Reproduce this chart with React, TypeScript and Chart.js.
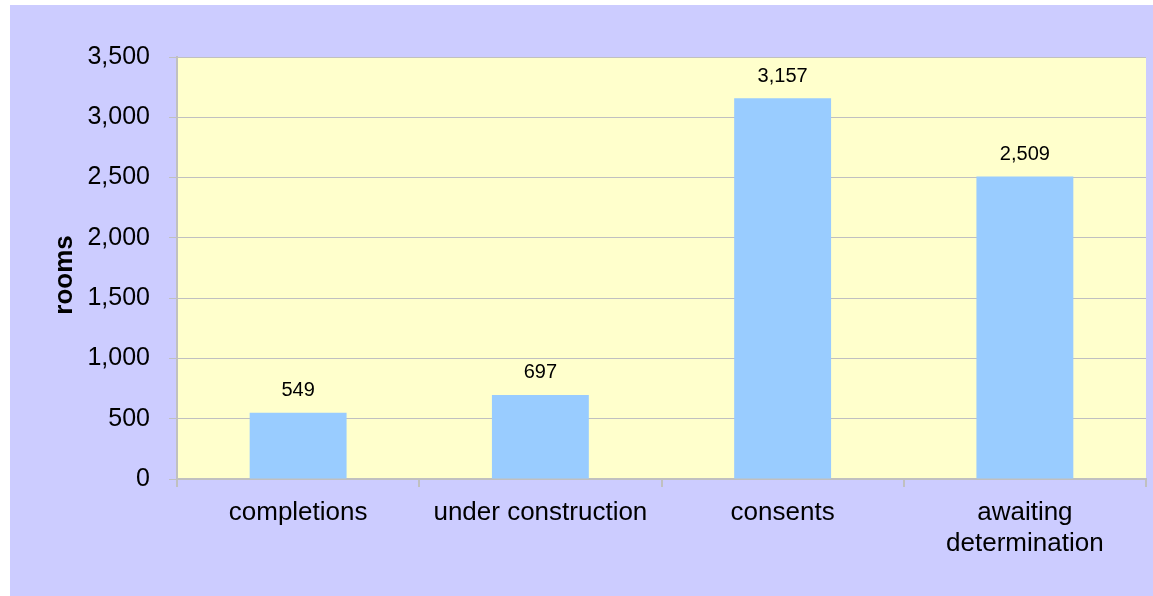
import React, { useEffect, useRef } from "react";
import { Chart, registerables } from "chart.js";

Chart.register(...registerables);

const categories: (string | string[])[] = [
  "completions",
  "under construction",
  "consents",
  ["awaiting", "determination"],
];
const rooms: number[] = [549, 697, 3157, 2509];
const yMin = 0;
const yMax = 3500;
const yStep = 500;
const yTitle = "rooms";

const FONT = "'Liberation Sans', Arial, sans-serif";

const bgPlugin = {
  id: "bgPlugin",
  beforeDraw(chart: any) {
    const { ctx, width, height, chartArea } = chart;
    ctx.save();
    ctx.fillStyle = "#FFFFFF";
    ctx.fillRect(0, 0, width, height);
    ctx.fillStyle = "#CCCCFF";
    ctx.fillRect(10, 5, width - 10, height - 5);
    ctx.fillStyle = "#FFFFCC";
    ctx.fillRect(chartArea.left, chartArea.top, chartArea.right - chartArea.left, chartArea.bottom - chartArea.top);
    ctx.restore();
  },
};

const labelPlugin = {
  id: "labelPlugin",
  afterDatasetsDraw(chart: any) {
    const { ctx, chartArea } = chart;
    const meta = chart.getDatasetMeta(0);
    const data = chart.data.datasets[0].data as number[];
    ctx.save();
    ctx.font = `20px ${FONT}`;
    ctx.fillStyle = "#000000";
    ctx.textAlign = "center";
    ctx.textBaseline = "middle";
    meta.data.forEach((bar: any, i: number) => {
      ctx.fillText(data[i].toLocaleString("en-US"), bar.x, bar.y - 22);
    });
    ctx.restore();
    // y-axis title
    ctx.save();
    ctx.font = `bold 26px ${FONT}`;
    ctx.fillStyle = "#000000";
    ctx.textAlign = "center";
    ctx.textBaseline = "middle";
    ctx.translate(65, (chartArea.top + chartArea.bottom) / 2 + 7);
    ctx.rotate(-Math.PI / 2);
    ctx.fillText(yTitle, 0, 0);
    ctx.restore();
  },
};

export default function App() {
  const ref = useRef<HTMLCanvasElement>(null);
  useEffect(() => {
    if (!ref.current) return;
    const chart = new Chart(ref.current, {
      type: "bar",
      data: {
        labels: categories as any,
        datasets: [
          {
            data: rooms,
            backgroundColor: "#99CCFF",
            borderWidth: 0,
            categoryPercentage: 1,
            barPercentage: 0.4,
          },
        ],
      },
      options: {
        animation: false,
        responsive: false,
        devicePixelRatio: 1,
        layout: { padding: { left: 0, top: 57, right: 7, bottom: 0 } },
        plugins: { legend: { display: false }, tooltip: { enabled: false }, title: { display: false } },
        scales: {
          x: {
            offset: true,
            grid: {
              offset: true,
              drawOnChartArea: false,
              drawTicks: true,
              tickLength: 8,
              color: "#C0C0C0",
              lineWidth: 2,
            },
            border: { display: true, color: "#C0C0C0", width: 2 },
            ticks: {
              color: "#000000",
              font: { family: FONT, size: 26, lineHeight: 1.2 },
              padding: 10,
              maxRotation: 0,
              autoSkip: false,
            },
            afterFit(scale: any) {
              scale.height = 117;
            },
          },
          y: {
            min: yMin,
            max: yMax,
            grid: { color: "#C0C0C0", lineWidth: 1, drawTicks: true, tickLength: 8 },
            border: { display: true, color: "#C0C0C0", width: 2 },
            ticks: {
              stepSize: yStep,
              color: "#000000",
              padding: 19,
              font: { family: FONT, size: 25 },
              callback: (v: any) => Number(v).toLocaleString("en-US"),
            },
            afterFit(scale: any) {
              scale.width = 177;
            },
          },
        },
      },
      plugins: [bgPlugin, labelPlugin],
    });
    return () => chart.destroy();
  }, []);
  return (
    <div style={{ position: "fixed", left: 0, top: 0, width: 1153, height: 596 }}>
      <canvas ref={ref} width={1153} height={596} style={{ display: "block" }} />
    </div>
  );
}
